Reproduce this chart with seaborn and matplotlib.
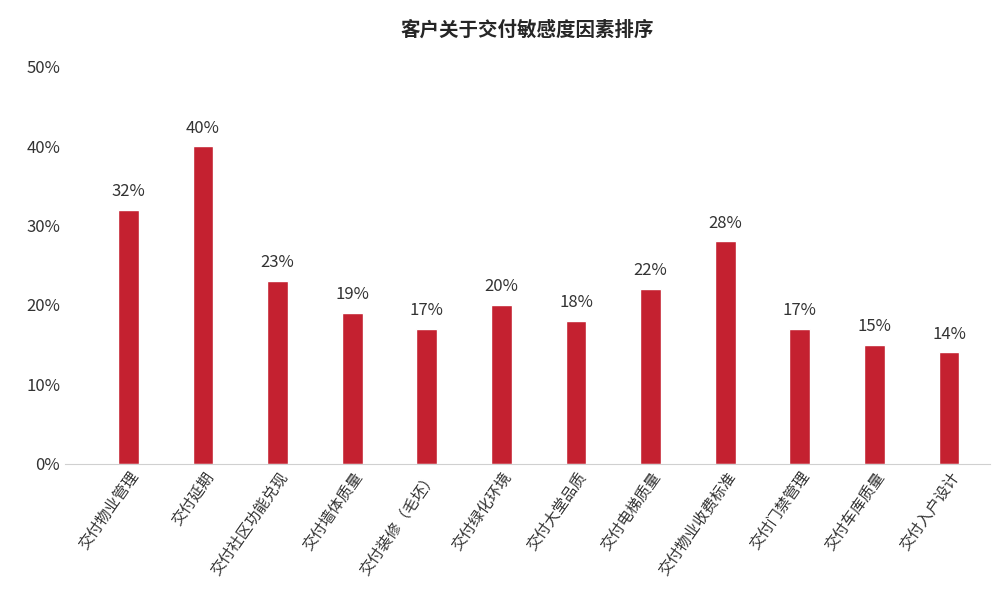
import numpy as np
import pandas as pd
import matplotlib
matplotlib.use("Agg")
import matplotlib.pyplot as plt
import seaborn as sns

sns.set_style("white", {"font.family": "sans-serif",
                        "font.sans-serif": ["Noto Sans CJK SC", "DejaVu Sans"]})
plt.rcParams["font.sans-serif"] = ["Noto Sans CJK SC", "DejaVu Sans"]

categories = ["交付物业管理", "交付延期", "交付社区功能兑现", "交付墙体质量", "交付装修（毛坯）",
              "交付绿化环境", "交付大堂品质", "交付电梯质量", "交付物业收费标准", "交付门禁管理",
              "交付车库质量", "交付入户设计"]
values = [32, 40, 23, 19, 17, 20, 18, 22, 28, 17, 15, 14]
yticks = [0, 10, 20, 30, 40, 50]

df = pd.DataFrame({"cat": categories, "val": values})

fig, ax = plt.subplots(figsize=(10, 6.06), dpi=100)
sns.barplot(data=df, x="cat", y="val", color="#c42130", width=0.28, saturation=1, ax=ax)

for i, v in enumerate(values):
    ax.text(i, v + 1.2, f"{v}%", ha="center", va="bottom", fontsize=12, color="#333333")

ax.set_ylim(0, 50)
ax.set_yticks(yticks)
ax.set_yticklabels([f"{t}%" for t in yticks], fontsize=12, color="#333333")
ax.set_xticks(range(len(categories)))
ax.set_xticklabels(categories, rotation=55, ha="right", rotation_mode="anchor", fontsize=11,
                   color="#333333")
ax.set_xlabel("")
ax.set_ylabel("")
ax.set_xlim(-0.85, len(categories) - 0.45)
ax.tick_params(axis="both", length=0)
sns.despine(left=True)
ax.spines["bottom"].set_color("#d0d0d0")
ax.set_title("客户关于交付敏感度因素排序", fontsize=14, fontweight="bold", pad=22)

fig.subplots_adjust(left=0.065, right=0.99, top=0.89, bottom=0.235)
fig.savefig("out.png")
